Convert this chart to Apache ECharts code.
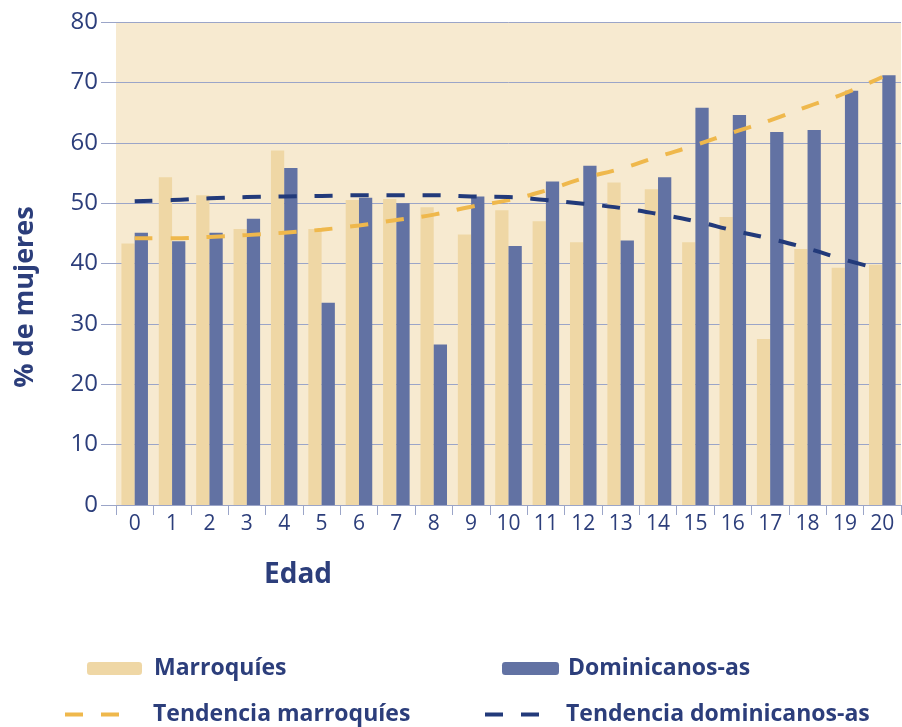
<!DOCTYPE html>
<html>
<head>
<meta charset="utf-8">
<script src="https://cdn.jsdelivr.net/npm/echarts@6/dist/echarts.min.js"></script>
<style>
	html, body { margin: 0; padding: 0; background: #fff; }
	#chart { width: 902px; height: 727px; }
</style>
</head>
<body>
<div id="chart"></div>
<script>
// edades (categorias del eje x)
const edades = ['0', '1', '2', '3', '4', '5', '6', '7', '8', '9', '10', '11', '12', '13', '14', '15', '16', '17', '18', '19', '20']
// % de mujeres por edad
const marroquies = [43.3, 54.3, 51.3, 45.7, 58.7, 45.7, 50.5, 50.7, 49.3, 44.8, 48.8, 47.0, 43.5, 53.4, 52.3, 43.5, 47.7, 27.5, 42.4, 39.3, 39.8]
const dominicanos = [45.1, 43.7, 45.1, 47.4, 55.8, 33.5, 50.9, 50.0, 26.6, 51.1, 42.9, 53.6, 56.2, 43.8, 54.3, 65.8, 64.6, 61.8, 62.1, 68.6, 71.2]
// lineas de tendencia
const tendMarroquies = [44.2, 44.2, 44.4, 44.7, 45.1, 45.6, 46.3, 47.2, 48.1, 49.4, 50.5, 52.1, 54.1, 55.7, 57.7, 59.6, 61.7, 63.7, 66.0, 68.2, 70.9]
const tendDominicanos = [50.3, 50.5, 50.8, 51.0, 51.1, 51.2, 51.3, 51.3, 51.3, 51.1, 51.0, 50.5, 49.9, 49.2, 48.2, 47.0, 45.5, 44.1, 42.5, 40.6, 39.0]
const yTicks = [0, 80, 10] // min, max, interval

const navy = '#2c3e7b'
const gridc = '#9ba5c8'
const font = 'Open Sans'
const dashIcon = 'path://M0,0H18V4H0Z M36,0H54V4H36Z'

const chart = echarts.init(document.getElementById('chart'))

const legendText = { color: navy, fontSize: 23, fontWeight: 'bold', fontFamily: font }
function legend(name, left, top, w, h, pad, icon) {
	return {
		data: [icon ? { name: name, icon: icon } : name],
		left: left, top: top, itemWidth: w, itemHeight: h,
		textStyle: Object.assign({ padding: [0, 0, 0, pad] }, legendText),
		selectedMode: false,
	}
}

chart.setOption({
	animation: false,
	grid: {
		left: 116, top: 22, right: 1, bottom: 222,
		show: true, backgroundColor: '#f7ead0', borderWidth: 0,
	},
	xAxis: {
		type: 'category',
		data: edades,
		axisLine: { lineStyle: { color: gridc, width: 1 } },
		axisTick: { show: true, length: 10, lineStyle: { color: gridc } },
		axisLabel: { color: navy, fontSize: 21, fontFamily: font, margin: 9 },
		splitLine: { show: false },
	},
	yAxis: {
		type: 'value',
		min: yTicks[0], max: yTicks[1], interval: yTicks[2],
		axisLine: { show: false },
		axisTick: { show: true, length: 15, lineStyle: { color: gridc } },
		axisLabel: { color: navy, fontSize: 24, fontFamily: font, margin: 18 },
		splitLine: { lineStyle: { color: gridc, width: 1 } },
	},
	legend: [
		legend('Marroquíes', 82, 652, 55, 13, 7),
		legend('Dominicanos-as', 497, 652, 57, 13, 4),
		legend('Tendencia marroquíes', 60, 698, 54, 4, 29, dashIcon),
		legend('Tendencia dominicanos-as', 480, 698, 54, 4, 22, dashIcon),
	],
	graphic: [{
		type: 'text', left: 264, top: 561,
		style: { text: 'Edad', fill: navy, font: 'bold 28px "Open Sans"' },
	}, {
		type: 'text', x: 25, y: 297, rotation: Math.PI / 2,
		style: { text: '% de mujeres', fill: navy, font: 'bold 27px "Open Sans"', align: 'center', verticalAlign: 'middle' },
	}],
	series: [{
		name: 'Marroquíes', type: 'bar', data: marroquies,
		barGap: '0%', barCategoryGap: '29%',
		itemStyle: { color: '#efd7a5' },
	}, {
		name: 'Dominicanos-as', type: 'bar', data: dominicanos,
		itemStyle: { color: '#6272a3' },
	}, {
		name: 'Tendencia marroquíes', type: 'line', data: tendMarroquies,
		symbol: 'none', smooth: true,
		lineStyle: { color: '#efb84c', width: 4, type: [18, 18] },
		itemStyle: { color: '#efb84c' },
	}, {
		name: 'Tendencia dominicanos-as', type: 'line', data: tendDominicanos,
		symbol: 'none', smooth: true,
		lineStyle: { color: '#223a7a', width: 4, type: [18, 18] },
		itemStyle: { color: '#223a7a' },
	}],
})
</script>
</body>
</html>
